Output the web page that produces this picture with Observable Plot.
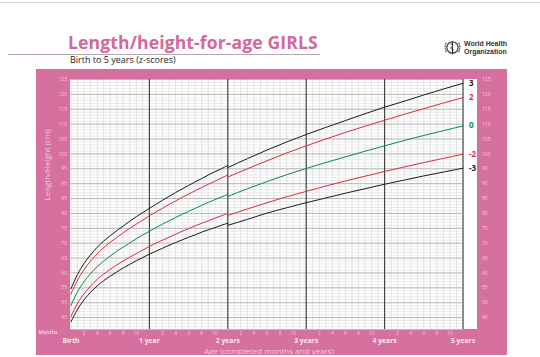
<!DOCTYPE html>
<html><head><meta charset="utf-8">
<script src="https://cdn.jsdelivr.net/npm/d3@7"></script>
<script src="https://cdn.jsdelivr.net/npm/@observablehq/plot@0.6"></script>
<style>
body{margin:0;background:#fff;font-family:"Open Sans",sans-serif;}
#page{position:relative;width:540px;height:357px;overflow:hidden;background:#fff;}
.topline{position:absolute;left:0;top:2px;width:540px;height:1px;background:#d8d8d8;}
.title{position:absolute;left:68px;top:30px;font-size:17.6px;font-weight:700;color:#d4679b;letter-spacing:0.1px;white-space:nowrap;}
.rule{position:absolute;left:8px;top:54px;width:312px;height:1px;background:#b9a3ad;}
.subtitle{position:absolute;left:70px;top:53px;font-size:9px;color:#222;white-space:nowrap;}
.who{position:absolute;left:444px;top:39px;display:flex;align-items:center;}
.who .txt{font-size:7px;font-weight:700;line-height:7.4px;color:#333;margin-left:3px;font-family:"Liberation Sans",sans-serif;}
.panel{position:absolute;left:36px;top:69px;width:471px;height:286px;background:#d6709f;}
.plotbg{position:absolute;left:70px;top:79px;width:407px;height:250px;background:#fff;}
#chart{position:absolute;left:0;top:0;}
</style></head><body>
<div id="page">
 <div class="topline"></div>
 <div class="title">Length/height-for-age GIRLS</div>
 <div class="rule"></div>
 <div class="subtitle">Birth to 5 years (z-scores)</div>
 <div class="who">
  <svg width="17" height="17" viewBox="0 0 16 15">
   <circle cx="8" cy="7.5" r="5.3" fill="none" stroke="#444" stroke-width="1.2"/>
   <path d="M2,3 Q0,7.5 2.5,12.5 M14,3 Q16,7.5 13.5,12.5" fill="none" stroke="#444" stroke-width="1.3" stroke-dasharray="1 0.6"/>
   <line x1="8" y1="1.5" x2="8" y2="14" stroke="#333" stroke-width="1"/>
   <path d="M6,4 Q10,5 7,7 Q5,9 9.5,10" fill="none" stroke="#333" stroke-width="0.8"/>
  </svg>
  <div class="txt">World Health<br>Organization</div>
 </div>
 <div class="panel"></div>
 <div class="plotbg"></div>
 <div id="chart"></div>
</div>
<script>
// Length (0-24 months, lying) z-score curves, cm
const ageLength = [0,1,2,3,4,5,6,7,8,9,10,11,12,13,14,15,16,17,18,19,20,21,22,23,24];
const lenM3 = [43.6,47.8,51.0,53.5,55.6,57.4,58.9,60.3,61.7,62.9,64.1,65.2,66.3,67.3,68.3,69.3,70.2,71.1,72.0,72.8,73.7,74.5,75.2,76.0,76.7];
const lenM2 = [45.4,49.8,53.0,55.6,57.8,59.6,61.2,62.7,64.0,65.3,66.5,67.7,68.9,70.0,71.0,72.0,73.0,74.0,74.9,75.8,76.7,77.5,78.4,79.2,80.0];
const len0  = [49.1,53.7,57.1,59.8,62.1,64.0,65.7,67.3,68.7,70.1,71.5,72.8,74.0,75.2,76.4,77.5,78.6,79.7,80.7,81.7,82.7,83.7,84.6,85.5,86.4];
const lenP2 = [52.9,57.6,61.1,64.0,66.4,68.5,70.3,71.9,73.5,75.0,76.4,77.8,79.2,80.5,81.7,83.0,84.2,85.4,86.5,87.6,88.7,89.8,90.8,91.9,92.9];
const lenP3 = [54.7,59.5,63.2,66.1,68.6,70.7,72.5,74.2,75.8,77.4,78.9,80.3,81.7,83.1,84.4,85.7,87.0,88.2,89.4,90.6,91.7,92.9,94.0,95.0,96.1];
// Height (24-60 months, standing)
const ageHeight = [24,27,30,33,36,39,42,45,48,51,54,57,60];
const htM3 = [76.0,78.0,80.1,81.9,83.6,85.2,86.8,88.3,89.8,91.2,92.6,93.9,95.2];
const htM2 = [79.3,81.5,83.6,85.6,87.4,89.2,90.9,92.5,94.1,95.6,97.1,98.5,99.9];
const ht0  = [85.7,88.3,90.7,93.0,95.1,97.1,99.0,100.9,102.7,104.5,106.2,107.8,109.4];
const htP2 = [92.2,95.0,97.7,100.3,102.7,105.0,107.2,109.3,111.3,113.3,115.2,117.1,118.9];
const htP3 = [95.4,98.4,101.3,104.0,106.5,108.9,111.2,113.5,115.7,117.7,119.8,121.8,123.7];

const zNames = ["-3","-2","0","2","3"];
const zColors = ["#1a1a1a","#e0283c","#078a45","#e0283c","#1a1a1a"];
const yearTicks = [0,12,24,36,48,60];
const yearLabels = ["Birth","1 year","2 years","3 years","4 years","5 years"];
const monthTicks = d3.range(0,61).filter(m => m % 12 !== 0 && m % 2 === 0);
const cmTicks = d3.range(45,126,5);

const lenSeries = [lenM3,lenM2,len0,lenP2,lenP3];
const htSeries = [htM3,htM2,ht0,htP2,htP3];
const rows = [];
zNames.forEach((z,i) => {
  ageLength.forEach((a,j) => rows.push({z, seg:"L", age:a, cm:lenSeries[i][j]}));
  ageHeight.forEach((a,j) => rows.push({z, seg:"H", age:a, cm:htSeries[i][j]}));
});
const ends = zNames.map((z,i) => ({z, age: ageHeight[ageHeight.length-1], cm: htSeries[i][htSeries[i].length-1]}));

const light = "#f4cadc";
const plot = Plot.plot({
  width: 540, height: 357,
  marginLeft: 70.5, marginRight: 77.5, marginTop: 79, marginBottom: 28,
  style: {background: "transparent", fontFamily: "'Open Sans', sans-serif"},
  x: {domain: [0,60], label: null},
  y: {domain: [41,125], label: null},
  color: {domain: zNames, range: zColors},
  marks: [
    Plot.gridX(d3.range(0,61), {stroke:"#d4d4d4", strokeOpacity:1, strokeWidth:0.6}),
    Plot.gridY(d3.range(41,126), {stroke:"#dcdcdc", strokeOpacity:1, strokeWidth:0.6}),
    Plot.gridY(cmTicks, {stroke:"#a2a2a2", strokeOpacity:1, strokeWidth:0.7}),
    Plot.gridX(yearTicks.slice(1), {stroke:"#3a3a3a", strokeOpacity:1, strokeWidth:1.1}),
    Plot.line(rows, {x:"age", y:"cm", z: d => d.z + d.seg, stroke: "z", strokeWidth:1, curve:"monotone-x"}),
    Plot.text(ends, {x:"age", y:"cm", text:"z", fill:"z", dx:6, textAnchor:"start", fontSize:8, fontWeight:"bold"}),
    Plot.axisY(cmTicks, {anchor:"left", tickSize:0, tickPadding:4, fontSize:5, fill:light, label:null}),
    Plot.axisY(cmTicks, {anchor:"right", tickSize:0, tickPadding:19, fontSize:5, fill:light, label:null}),
    Plot.axisX(monthTicks, {anchor:"bottom", tickSize:0, tickPadding:2, fontSize:4.8, fill:light, tickFormat: d => d % 12, label:null}),
    Plot.axisX(yearTicks, {anchor:"bottom", tickSize:0, tickPadding:9, fontSize:6.8, fontWeight:"bold", fill:"#fbe6ef", tickFormat: (d,i) => yearLabels[i], label:null}),
    Plot.text(["Months"], {frameAnchor:"bottom-left", textAnchor:"middle", dx:-23, dy:4.5, fontSize:5, fontWeight:"bold", fill:light}),
    Plot.text(["Age (completed months and years)"], {frameAnchor:"bottom", dx:2, dy:24, fontSize:8, fill:light}),
    Plot.text(["Length/Height (cm)"], {frameAnchor:"left", dx:-24, dy:-4, rotate:-90, fontSize:8, fill:light})
  ]
});
document.getElementById("chart").appendChild(plot);
</script>
</body></html>
